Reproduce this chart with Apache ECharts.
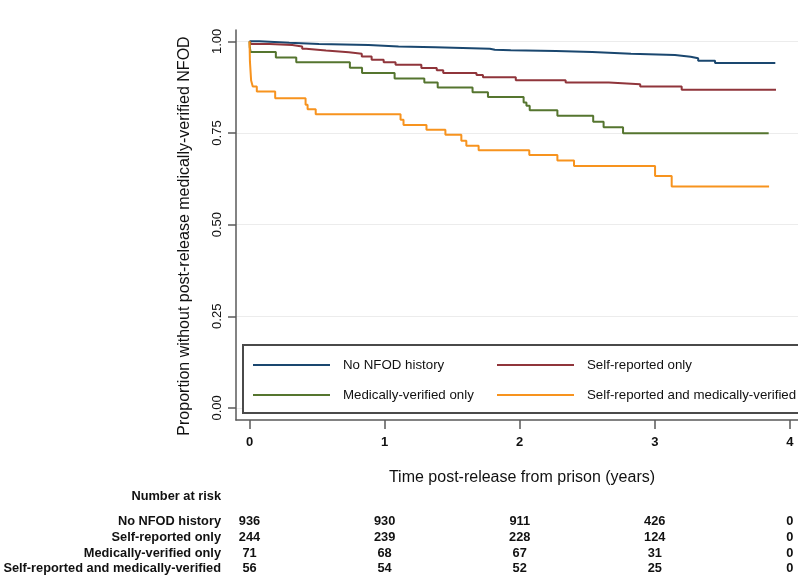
<!DOCTYPE html>
<html>
<head>
<meta charset="utf-8">
<script src="https://cdn.jsdelivr.net/npm/echarts@6/dist/echarts.min.js"></script>
<style>
html,body{margin:0;padding:0;background:#fff;}
#chart{width:798px;height:575px;}
</style>
</head>
<body>
<div id="chart"></div>
<script>
// ---- data ----
const groups = ['No NFOD history', 'Self-reported only', 'Medically-verified only', 'Self-reported and medically-verified'];
const colors = ['#1a476f', '#90353b', '#55752f', '#f7931e'];
const xTicks = [0, 1, 2, 3, 4];
const yTicks = [0, 0.25, 0.5, 0.75, 1];

const noHistTime = [0, 0.074, 0.294, 0.515, 0.882, 1.103, 1.375, 1.779, 1.816, 1.934, 2.268, 2.537, 2.824, 3.149, 3.265, 3.321, 3.446, 3.892];
const noHistSurv = [1, 0.996, 0.993, 0.990, 0.986, 0.984, 0.980, 0.977, 0.976, 0.974, 0.971, 0.966, 0.963, 0.958, 0.954, 0.947, 0.941, 0.941];

const selfTime = [0, 0.011, 0.147, 0.316, 0.39, 0.419, 0.566, 0.735, 0.831, 0.904, 0.993, 1.081, 1.272, 1.386, 1.434, 1.68, 1.728, 1.971, 2.34, 2.66, 2.892, 3.199, 3.897];
const selfSurv = [1, 0.993, 0.990, 0.986, 0.980, 0.975, 0.970, 0.966, 0.959, 0.950, 0.943, 0.936, 0.927, 0.921, 0.914, 0.908, 0.902, 0.894, 0.888, 0.883, 0.877, 0.868, 0.868];

const medTime = [0, 0.002, 0.008, 0.195, 0.346, 0.743, 0.833, 1.074, 1.294, 1.393, 1.651, 1.765, 2.029, 2.05, 2.074, 2.279, 2.544, 2.621, 2.765, 3.843];
const medSurv = [1, 0.984, 0.971, 0.956, 0.943, 0.928, 0.914, 0.899, 0.888, 0.874, 0.861, 0.848, 0.833, 0.824, 0.812, 0.797, 0.781, 0.766, 0.749, 0.749];

const bothTime = [0, 0.003, 0.012, 0.024, 0.054, 0.19, 0.415, 0.43, 0.49, 1.118, 1.14, 1.31, 1.45, 1.568, 1.605, 1.696, 2.071, 2.279, 2.402, 3.002, 3.125, 3.846];
const bothSurv = [1, 0.946, 0.893, 0.877, 0.863, 0.845, 0.827, 0.815, 0.801, 0.786, 0.772, 0.759, 0.745, 0.729, 0.715, 0.703, 0.690, 0.675, 0.660, 0.633, 0.604, 0.604];

const riskTimes = [0, 1, 2, 3, 4];
const riskNoHist = [936, 930, 911, 426, 0];
const riskSelf = [244, 239, 228, 124, 0];
const riskMed = [71, 68, 67, 31, 0];
const riskBoth = [56, 54, 52, 25, 0];

// ---- build ----
const FONT = 'Arial, "Liberation Sans", sans-serif';
const zip = (t, s) => t.map((v, i) => [v, s[i]]);
const seriesData = [zip(noHistTime, noHistSurv), zip(selfTime, selfSurv), zip(medTime, medSurv), zip(bothTime, bothSurv)];
const riskRows = [riskNoHist, riskSelf, riskMed, riskBoth];

const chart = echarts.init(document.getElementById('chart'), null, {renderer: 'canvas'});

const legendPos = [[253, 357], [497, 357], [253, 387], [497, 387]];

const option = {
  animation: false,
  backgroundColor: '#fff',
  grid: {left: 236, width: 566, top: 30, height: 390, containLabel: false},
  xAxis: {
    type: 'value', min: -0.1, max: 4.06,
    axisLine: {show: true, onZero: false, lineStyle: {color: '#5a5a5a', width: 1.5}},
    axisTick: {show: true, customValues: xTicks, length: 9, lineStyle: {color: '#5a5a5a', width: 1.5}},
    axisLabel: {customValues: xTicks, margin: 16, fontFamily: FONT, fontSize: 13, fontWeight: 'bold', color: '#111'},
    splitLine: {show: false}
  },
  yAxis: {
    type: 'value', min: -0.033, max: 1.031,
    axisLine: {show: true, onZero: false, lineStyle: {color: '#5a5a5a', width: 1.5}},
    axisTick: {show: true, customValues: yTicks, length: 8, lineStyle: {color: '#5a5a5a', width: 1.5}},
    axisLabel: {customValues: yTicks, rotate: 90, margin: 12, fontFamily: FONT, fontSize: 13, color: '#111',
      formatter: v => v.toFixed(2)},
    splitLine: {show: true, lineStyle: {color: '#ececec', width: 1}}
  },
  legend: groups.map((g, i) => ({
    data: [g], left: legendPos[i][0], top: legendPos[i][1], padding: 0, z: 20,
    icon: 'rect', itemWidth: 77, itemHeight: 2, selectedMode: false,
    textStyle: {fontFamily: FONT, fontSize: 13.3, color: '#111', lineHeight: 16, padding: [0, 0, 0, 8]}
  })),
  series: groups.map((g, i) => ({
    name: g, type: 'line', step: 'end', data: seriesData[i], showSymbol: false, symbol: 'none',
    color: colors[i], lineStyle: {width: 2, color: colors[i]}, z: 3
  })),
  graphic: []
};
chart.setOption(option);

// build texts positioned through the axis scale
const g = [];
g.push({type: 'rect', z: 10, shape: {x: 243, y: 345, width: 570, height: 68},
  style: {fill: '#fff', stroke: '#4a4a4a', lineWidth: 2}});
g.push({type: 'text', z: 10, x: 185, y: 236, rotation: Math.PI / 2,
  style: {text: 'Proportion without post-release medically-verified NFOD', font: '16px ' + FONT, fill: '#111', align: 'center', verticalAlign: 'middle'}});
g.push({type: 'text', z: 10, x: 522, y: 478,
  style: {text: 'Time post-release from prison (years)', font: '16px ' + FONT, fill: '#111', align: 'center', verticalAlign: 'middle'}});
g.push({type: 'text', z: 10, x: 221, y: 496,
  style: {text: 'Number at risk', font: 'bold 12.8px ' + FONT, fill: '#111', align: 'right', verticalAlign: 'middle'}});
const rowY = [521, 537.5, 553, 568.5];
groups.forEach((name, r) => {
  g.push({type: 'text', z: 10, x: 221, y: rowY[r],
    style: {text: name, font: 'bold 12.8px ' + FONT, fill: '#111', align: 'right', verticalAlign: 'middle'}});
  riskTimes.forEach((t, c) => {
    const px = chart.convertToPixel({xAxisIndex: 0}, t);
    g.push({type: 'text', z: 10, x: px, y: rowY[r],
      style: {text: String(riskRows[r][c]), font: 'bold 12.8px ' + FONT, fill: '#111', align: 'center', verticalAlign: 'middle'}});
  });
});
chart.setOption({graphic: g});
</script>
</body>
</html>
